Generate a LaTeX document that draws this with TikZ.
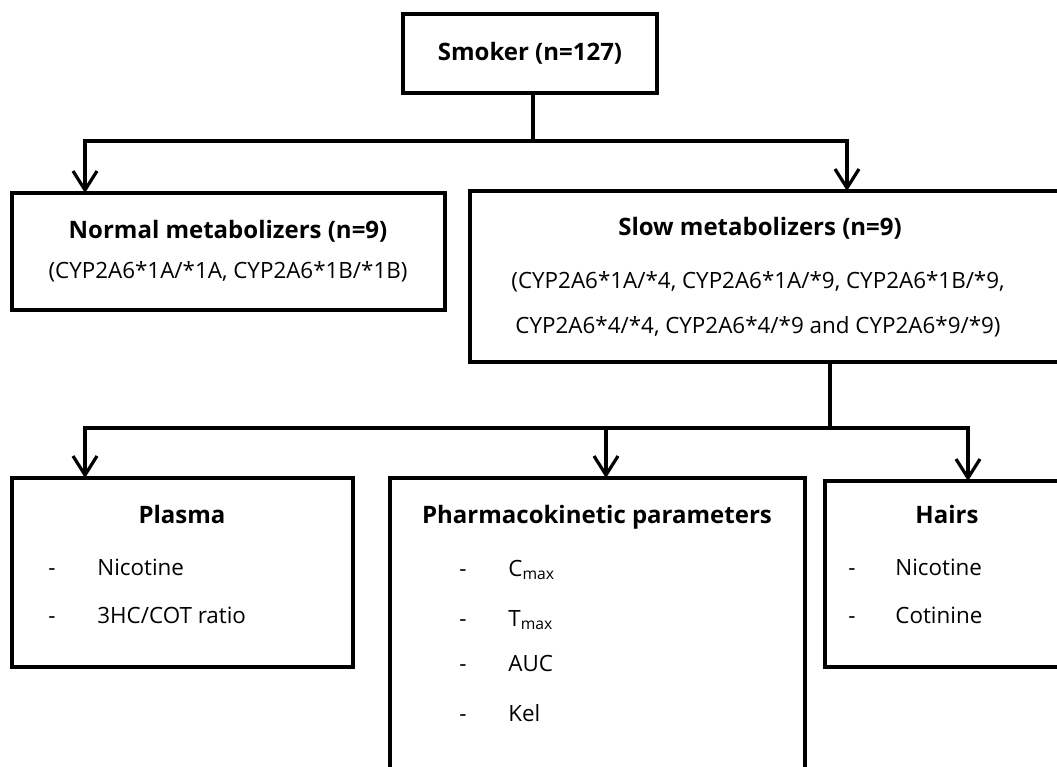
\documentclass[tikz,border=0pt]{standalone}
\usepackage{fontspec}
\setmainfont{Open Sans}
\usetikzlibrary{arrows.meta}
\begin{document}
\begin{tikzpicture}[x=0.5pt,y=-0.5pt,
  box/.style={draw=black,line width=2.2pt,inner sep=0pt,outer sep=0pt,fill=none},
  conn/.style={draw=black,line width=1.6pt},
  arr/.style={conn,-{Straight Barb[length=9.5pt,width=12pt,line width=1.6pt]}},
  ttl/.style={font=\fontsize{12}{14}\selectfont\bfseries,anchor=base,inner sep=0pt},
  txt/.style={font=\fontsize{11.2}{13}\selectfont,anchor=base,inner sep=0pt},
  itm/.style={font=\fontsize{11.2}{13}\selectfont,anchor=base west,inner sep=0pt}]
\useasboundingbox (0,0) rectangle (1057,767);
\clip (0,0) rectangle (1057,767);
% boxes
\node[box,minimum width=127pt,minimum height=39.5pt] (smoker) at (530,53.5) {};
\node[box,minimum width=216.5pt,minimum height=58.5pt] (normal) at (228.5,251.5) {};
\node[box,minimum width=305pt,minimum height=85.5pt] (slow) at (775,276.5) {};
\node[box,minimum width=170.5pt,minimum height=94.5pt] (plasma) at (182.5,572.5) {};
\node[box,minimum width=207.5pt,minimum height=156pt] (pharma) at (597.5,634) {};
\node[box,minimum width=127.5pt,minimum height=93pt] (hairs) at (952.5,574) {};
% texts
\node[ttl] (tsm) at (530,60) {Smoker (n=127)};
\node[ttl] (tno) at (228,238) {Normal metabolizers (n=9)};
\node[txt] (tno2) at (228,278) {(CYP2A6*1A/*1A, CYP2A6*1B/*1B)};
\node[ttl] (tsl) at (760,235) {Slow metabolizers (n=9)};
\node[txt] (tsl2) at (758,288) {(CYP2A6*1A/*4, CYP2A6*1A/*9, CYP2A6*1B/*9,};
\node[txt] (tsl3) at (758,333) {CYP2A6*4/*4, CYP2A6*4/*9 and CYP2A6*9/*9)};
\node[ttl] (tpl) at (182,523) {Plasma};
\node[itm] (pd1) at (48,575) {-};
\node[itm] (pl1) at (97,575) {Nicotine};
\node[itm] (pd2) at (48,623) {-};
\node[itm] (pl2) at (97,623) {3HC/COT ratio};
\node[ttl] (tph) at (597,523) {Pharmacokinetic parameters};
\node[itm] (hd1) at (459,576) {-};
\node[itm] (ph1) at (508,576) {C\textsubscript{max}};
\node[itm] (hd2) at (459,626) {-};
\node[itm] (ph2) at (508,626) {T\textsubscript{max}};
\node[itm] (hd3) at (459,671) {-};
\node[itm] (ph3) at (508,671) {AUC};
\node[itm] (hd4) at (459,721) {-};
\node[itm] (ph4) at (508,721) {Kel};
\node[ttl] (tha) at (947,523) {Hairs};
\node[itm] (ad1) at (848,575) {-};
\node[itm] (ha1) at (895,575) {Nicotine};
\node[itm] (ad2) at (848,623) {-};
\node[itm] (ha2) at (895,623) {Cotinine};
% connector coordinates
\coordinate (j1) at (533,141);
\coordinate (j2) at (830,428);
\coordinate (xn) at (85,0);
\coordinate (xs) at (847,0);
\coordinate (xp) at (85,0);
\coordinate (xk) at (606,0);
\coordinate (xh) at (968,0);
% connectors
\draw[conn] (j1 |- smoker.south) -- (j1);
\draw[arr] (j1) -| (xn |- normal.north);
\draw[arr] (j1) -| (xs |- slow.north);
\draw[conn] (j2 |- slow.south) -- (j2);
\draw[arr] (j2) -| (xp |- plasma.north);
\draw[arr] (j2) -| (xk |- pharma.north);
\draw[arr] (j2) -| (xh |- hairs.north);
\end{tikzpicture}
\end{document}
